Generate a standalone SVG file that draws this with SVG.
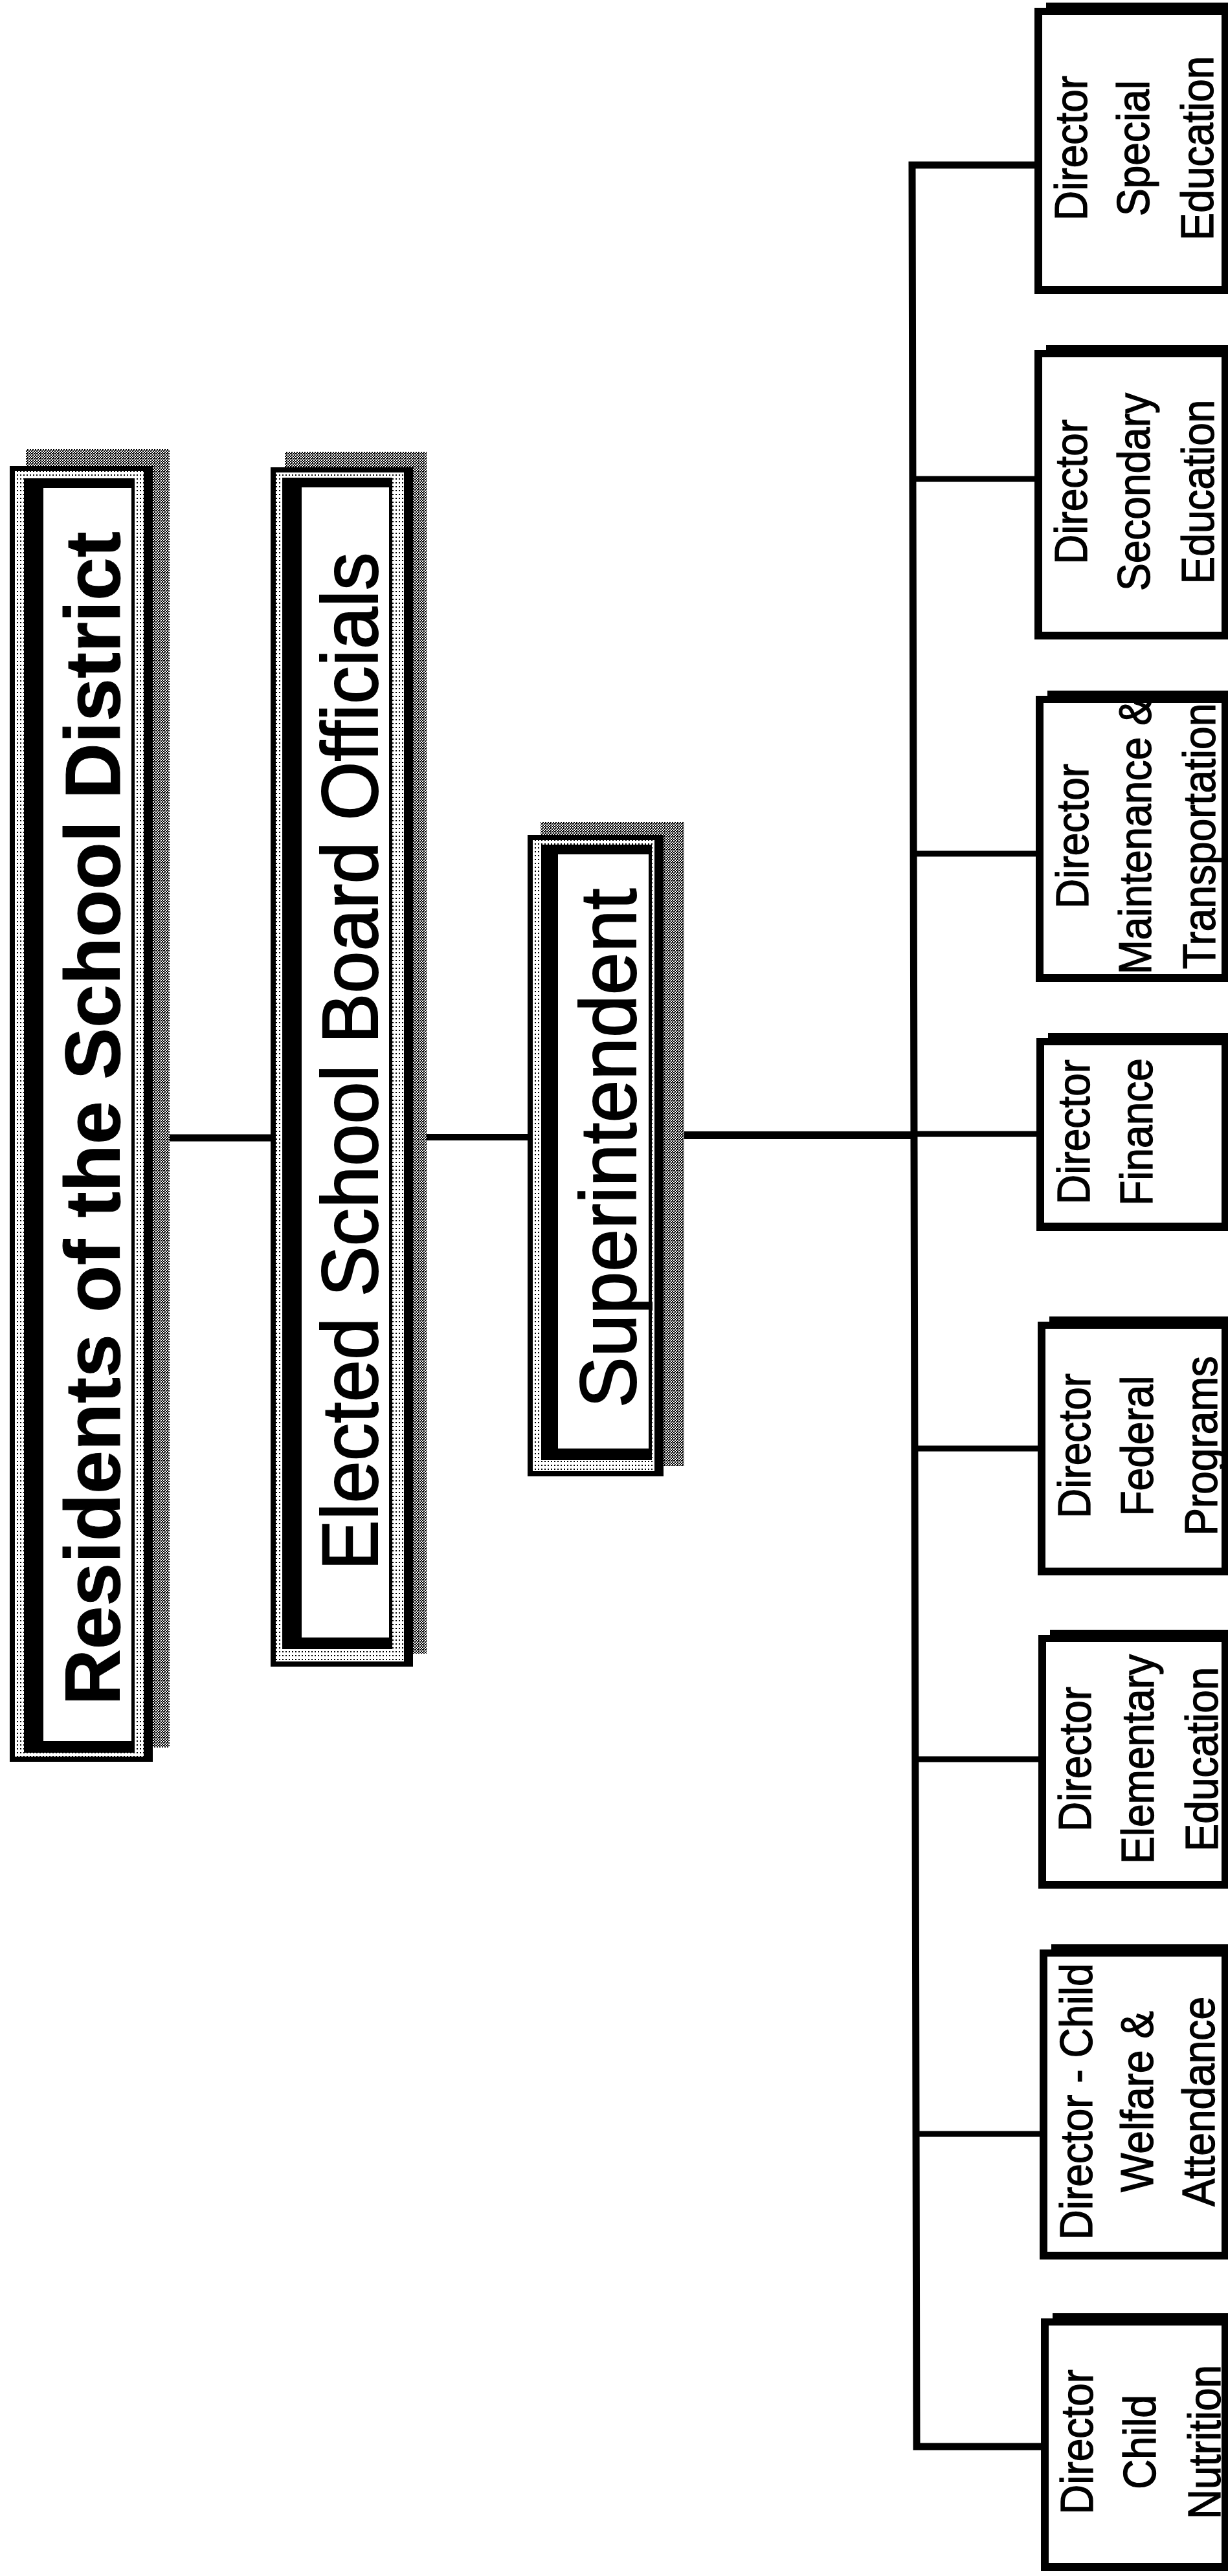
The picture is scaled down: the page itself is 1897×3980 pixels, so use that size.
<svg xmlns="http://www.w3.org/2000/svg" width="1897" height="3980" viewBox="0 0 1897 3980">
<defs>
<pattern id="checker" width="4" height="4" patternUnits="userSpaceOnUse">
<rect width="4" height="4" fill="#fff"/>
<rect x="0" y="0" width="2" height="2" fill="#000"/>
<rect x="2" y="2" width="2" height="2" fill="#000"/>
<rect x="2" y="0" width="1" height="1" fill="#000"/>
</pattern>
<pattern id="dots" width="5" height="6" patternUnits="userSpaceOnUse">
<rect width="5" height="6" fill="#fff"/>
<rect x="1" y="1" width="2" height="2" fill="#000"/>
</pattern>
</defs>
<style>
.blk{fill:#000}
.wht{fill:#fff}
.shd{fill:url(#checker)}
.dot{fill:url(#dots)}
.big{font-family:"Liberation Sans",Arial,sans-serif;font-size:122px;fill:#000;stroke:#000;stroke-width:2;text-anchor:middle}
.bold{font-weight:bold;font-size:120px;stroke-width:1}
.dir{font-family:"Liberation Sans",Arial,sans-serif;font-size:70px;fill:#000;stroke:#000;stroke-width:1.3;text-anchor:middle}
.conn{stroke:#000;fill:none;stroke-linecap:square}
</style>
<rect width="1897" height="3980" fill="#fff"/>

<g id="connectors">
<line class="conn" x1="262" y1="1758" x2="418" y2="1758" stroke-width="11"/>
<line class="conn" x1="659" y1="1757" x2="815" y2="1757" stroke-width="10"/>
<line class="conn" x1="1057" y1="1754" x2="1409" y2="1754" stroke-width="12"/>
<polyline class="conn" points="1598,255 1409,255 1416,3780 1608,3780" stroke-width="11" stroke-linejoin="miter"/>
<line class="conn" x1="1410" y1="740" x2="1598" y2="740" stroke-width="9"/>
<line class="conn" x1="1411" y1="1319" x2="1600" y2="1319" stroke-width="9"/>
<line class="conn" x1="1412" y1="1752" x2="1601" y2="1752" stroke-width="9"/>
<line class="conn" x1="1413" y1="2238" x2="1603" y2="2238" stroke-width="9"/>
<line class="conn" x1="1414" y1="2718" x2="1604" y2="2718" stroke-width="9"/>
<line class="conn" x1="1415" y1="3297" x2="1606" y2="3297" stroke-width="9"/>
</g>

<g id="residents">
<rect class="shd" x="40" y="694" width="222" height="2006"/>
<rect class="blk" x="15" y="720" width="221" height="2002"/>
<rect class="dot" x="23" y="728" width="199" height="1986"/>
<rect class="blk" x="37" y="739" width="171" height="1969"/>
<rect class="wht" x="67" y="754" width="136" height="1936"/>
<text class="big bold" transform="translate(185,1728) rotate(-90)">Residents of the School District</text>
</g>

<g id="elected">
<rect class="shd" x="440" y="698" width="219" height="1857"/>
<rect class="blk" x="418" y="722" width="220" height="1853"/>
<rect class="dot" x="426" y="730" width="198" height="1837"/>
<rect class="blk" x="436" y="738" width="170" height="1810"/>
<rect class="wht" x="466" y="753" width="135" height="1777"/>
<text class="big" transform="translate(583,1640) rotate(-90) scale(0.96,1)">Elected School Board Officials</text>
</g>

<g id="superintendent">
<rect class="shd" x="835" y="1270" width="222" height="995"/>
<rect class="blk" x="815" y="1290" width="210" height="991"/>
<rect class="dot" x="823" y="1298" width="188" height="975"/>
<rect class="blk" x="836" y="1305" width="171" height="951"/>
<rect class="wht" x="862" y="1320" width="140" height="918"/>
<text class="big" transform="translate(982,1774) rotate(-90) scale(0.97,1)">Superintendent</text>
</g>

<g id="dir-special-education">
<rect class="blk" x="1598" y="12" width="299" height="442"/>
<rect class="blk" x="1616" y="4" width="281" height="10"/>
<rect class="wht" x="1610" y="23" width="277" height="419"/>
<g class="dir">
<text transform="translate(1679,229) rotate(-90) scale(0.915,1)">Director</text>
<text transform="translate(1775,229) rotate(-90) scale(0.915,1)">Special</text>
<text transform="translate(1874,229) rotate(-90) scale(0.915,1)">Education</text>
</g>
</g>

<g id="dir-secondary-education">
<rect class="blk" x="1598" y="541" width="299" height="447"/>
<rect class="blk" x="1616" y="533" width="281" height="10"/>
<rect class="wht" x="1610" y="552" width="277" height="424"/>
<g class="dir">
<text transform="translate(1679,760) rotate(-90) scale(0.915,1)">Director</text>
<text transform="translate(1776,760) rotate(-90) scale(0.915,1)">Secondary</text>
<text transform="translate(1875,760) rotate(-90) scale(0.915,1)">Education</text>
</g>
</g>

<g id="dir-maintenance-transportation">
<rect class="blk" x="1600" y="1075" width="297" height="442"/>
<rect class="blk" x="1618" y="1067" width="279" height="10"/>
<rect class="wht" x="1612" y="1086" width="275" height="419"/>
<g class="dir">
<text transform="translate(1681,1292) rotate(-90) scale(0.915,1)">Director</text>
<text transform="translate(1778,1292) rotate(-90) scale(0.915,1)">Maintenance &amp;</text>
<text transform="translate(1877,1292) rotate(-90) scale(0.915,1)">Transportation</text>
</g>
</g>

<g id="dir-finance">
<rect class="blk" x="1601" y="1604" width="296" height="298"/>
<rect class="blk" x="1619" y="1596" width="278" height="10"/>
<rect class="wht" x="1613" y="1615" width="274" height="274"/>
<g class="dir">
<text transform="translate(1683,1749) rotate(-90) scale(0.915,1)">Director</text>
<text transform="translate(1780,1749) rotate(-90) scale(0.915,1)">Finance</text>
</g>
</g>

<g id="dir-federal-programs">
<rect class="blk" x="1603" y="2042" width="294" height="392"/>
<rect class="blk" x="1621" y="2034" width="276" height="10"/>
<rect class="wht" x="1615" y="2053" width="272" height="369"/>
<g class="dir">
<text transform="translate(1684,2234) rotate(-90) scale(0.915,1)">Director</text>
<text transform="translate(1781,2234) rotate(-90) scale(0.915,1)">Federal</text>
<text transform="translate(1880,2234) rotate(-90) scale(0.915,1)">Programs</text>
</g>
</g>

<g id="dir-elementary-education">
<rect class="blk" x="1604" y="2526" width="293" height="392"/>
<rect class="blk" x="1622" y="2518" width="275" height="10"/>
<rect class="wht" x="1616" y="2537" width="271" height="369"/>
<g class="dir">
<text transform="translate(1685,2718) rotate(-90) scale(0.915,1)">Director</text>
<text transform="translate(1782,2718) rotate(-90) scale(0.915,1)">Elementary</text>
<text transform="translate(1881,2718) rotate(-90) scale(0.915,1)">Education</text>
</g>
</g>

<g id="dir-child-welfare-attendance">
<rect class="blk" x="1606" y="3012" width="291" height="479"/>
<rect class="blk" x="1624" y="3004" width="273" height="10"/>
<rect class="wht" x="1618" y="3023" width="269" height="456"/>
<g class="dir">
<text transform="translate(1687,3247) rotate(-90) scale(0.915,1)">Director - Child</text>
<text transform="translate(1781,3247) rotate(-90) scale(0.915,1)">Welfare &amp;</text>
<text transform="translate(1876,3247) rotate(-90) scale(0.915,1)">Attendance</text>
</g>
</g>

<g id="dir-child-nutrition">
<rect class="blk" x="1608" y="3582" width="289" height="390"/>
<rect class="blk" x="1626" y="3574" width="271" height="10"/>
<rect class="wht" x="1620" y="3593" width="267" height="367"/>
<g class="dir">
<text transform="translate(1688,3773) rotate(-90) scale(0.915,1)">Director</text>
<text transform="translate(1785,3773) rotate(-90) scale(0.915,1)">Child</text>
<text transform="translate(1885,3773) rotate(-90) scale(0.915,1)">Nutrition</text>
</g>
</g>
</svg>
